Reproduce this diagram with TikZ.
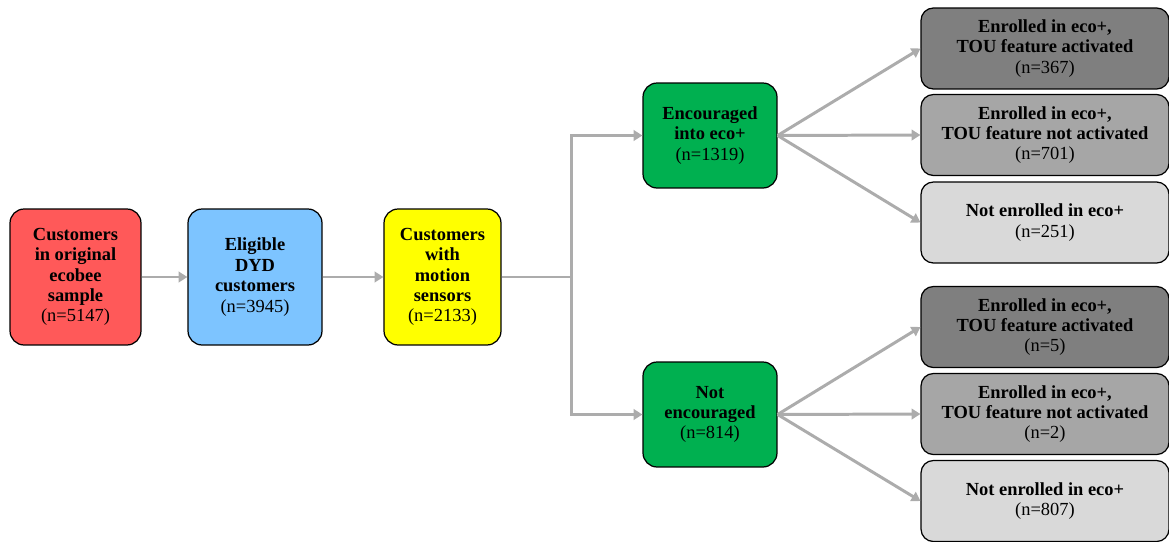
\documentclass[tikz,border=0pt]{standalone}
\usepackage{fontspec}
\setmainfont{Liberation Serif}
\usepackage{tikz}
\usetikzlibrary{arrows.meta}
\definecolor{boxred}{RGB}{255,89,89}
\definecolor{boxblue}{RGB}{125,196,255}
\definecolor{boxyellow}{RGB}{255,255,0}
\definecolor{boxgreen}{RGB}{0,176,80}
\definecolor{boxdark}{RGB}{127,127,127}
\definecolor{boxmid}{RGB}{166,166,166}
\definecolor{boxlight}{RGB}{217,217,217}
\definecolor{linkgray}{RGB}{172,172,172}
\tikzstyle{stepbox}=[rectangle,draw=black,line width=0.7pt,rounded corners=8pt,
                     align=center,font=\fontsize{10.5}{11.6}\selectfont\bfseries,inner sep=2pt]
\tikzstyle{outbox}=[stepbox,rounded corners=7pt,minimum width=4.96cm,minimum height=1.62cm]
\tikzstyle{link}=[draw=linkgray,line width=1.7pt,-{Triangle[length=5pt,width=6pt]}]
\newcommand\ncount[1]{\\{\mdseries (n=#1)}}

\begin{document}
\begin{tikzpicture}[x=0.02cm,y=-0.02cm]
    \useasboundingbox (0,0) rectangle (1169,541);
    % main chain
    \node [stepbox,fill=boxred,minimum width=2.62cm,minimum height=2.72cm] (sample) at (75.5,277) {
        Customers\\in original\\ecobee\\sample\ncount{5147}
    };
    \node [stepbox,fill=boxblue,minimum width=2.68cm,minimum height=2.72cm] (eligible) at (255,277) {
        Eligible\\DYD\\customers\ncount{3945}
    };
    \node [stepbox,fill=boxyellow,minimum width=2.34cm,minimum height=2.72cm] (motion) at (442.5,277) {
        Customers\\with\\motion\\sensors\ncount{2133}
    };
    \node [stepbox,fill=boxgreen,minimum width=2.68cm,minimum height=2.1cm] (encouraged) at (710,135.5) {
        Encouraged\\into eco+\ncount{1319}
    };
    \node [stepbox,fill=boxgreen,minimum width=2.68cm,minimum height=2.1cm] (notencouraged) at (710,414.5) {
        Not\\encouraged\ncount{814}
    };
    % outcomes, encouraged
    \node [outbox,fill=boxdark] (encact) at (1045,48.5) {
        Enrolled in eco+,\\TOU feature activated\ncount{367}
    };
    \node [outbox,fill=boxmid] (encnoact) at (1045,135) {
        Enrolled in eco+,\\TOU feature not activated\ncount{701}
    };
    \node [outbox,fill=boxlight] (encnone) at (1045,222.5) {
        Not enrolled in eco+\ncount{251}
    };
    % outcomes, not encouraged
    \node [outbox,fill=boxdark] (notact) at (1045,327) {
        Enrolled in eco+,\\TOU feature activated\ncount{5}
    };
    \node [outbox,fill=boxmid] (notnoact) at (1045,414) {
        Enrolled in eco+,\\TOU feature not activated\ncount{2}
    };
    \node [outbox,fill=boxlight] (notnone) at (1045,501) {
        Not enrolled in eco+\ncount{807}
    };
    % connectors
    \coordinate (split) at (571,277);
    \draw [link] (sample) -- (eligible);
    \draw [link] (eligible) -- (motion);
    \draw [link,-] (motion) -- (split);
    \draw [link] (split) |- (encouraged);
    \draw [link] (split) |- (notencouraged);
    \draw [link] (encouraged.east) -- (encact.west);
    \draw [link] (encouraged.east) -- (encnoact.west);
    \draw [link] (encouraged.east) -- (encnone.west);
    \draw [link] (notencouraged.east) -- (notact.west);
    \draw [link] (notencouraged.east) -- (notnoact.west);
    \draw [link] (notencouraged.east) -- (notnone.west);
\end{tikzpicture}
\end{document}
